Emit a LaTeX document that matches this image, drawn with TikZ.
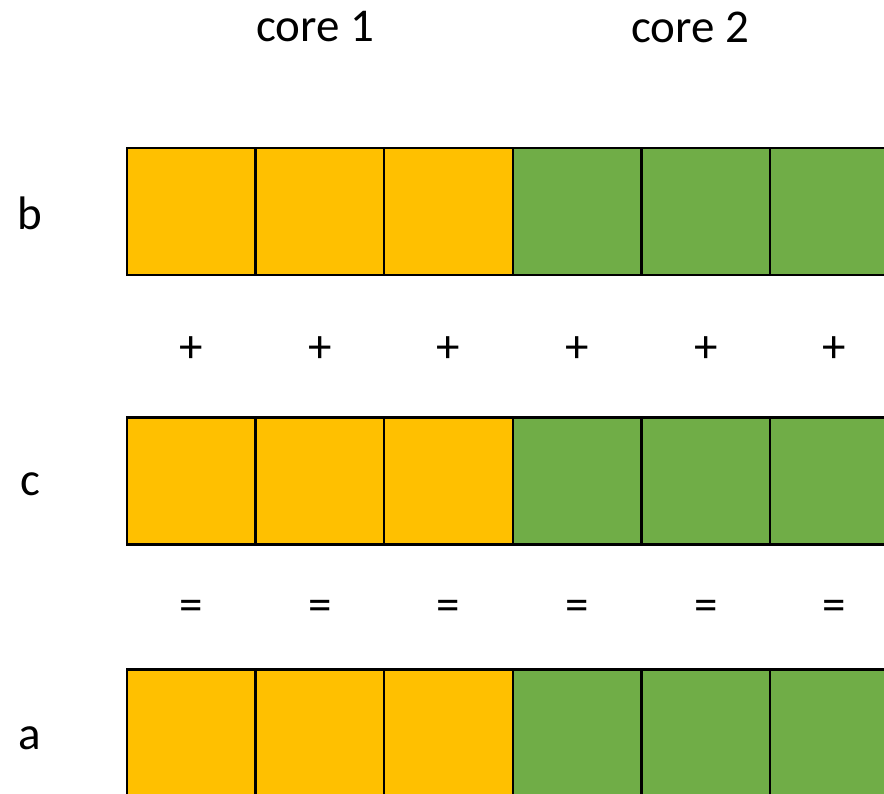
\documentclass[tikz,border=0pt]{standalone}
\usepackage{fontspec}
\setmainfont{Carlito}
\definecolor{coreone}{HTML}{FFC000}
\definecolor{coretwo}{HTML}{70AD47}
\tikzset{
  cell/.style={draw=black, line width=2.4pt, minimum width=128.6pt, minimum height=127pt, inner sep=0pt},
  txt/.style={font=\fontsize{47}{54}\selectfont, inner sep=0pt}
}
\begin{document}
\begin{tikzpicture}[x=1pt, y=-1pt]
        \useasboundingbox (0,0) rectangle (884,793);
        \node[txt] (core1) at (315,27) {core 1};
        \node[txt] (core2) at (690,27) {core 2};
        \node[txt] (lb) at (30,213) {b};
        \node[txt] (lc) at (30,484) {c};
        \node[txt] (la) at (30,738) {a};
        \foreach \r/\y in {b/211.5, c/481, a/733} {
            \foreach \i in {1,...,6} {
                \pgfmathsetmacro{\cx}{127+128.6*(\i-0.5)}
                \ifnum\i<4 \def\col{coreone}\else\def\col{coretwo}\fi
                \node[cell, fill=\col] (\r\i) at (\cx,\y) {};
            }
        }
        \foreach \i in {1,...,6} {
            \pgfmathsetmacro{\cx}{127+128.6*(\i-0.5)}
            \node[txt] (plus\i) at (\cx,350) {+};
            \node[txt] (eq\i) at (\cx,610) {=};
        }
    \end{tikzpicture}
\end{document}
